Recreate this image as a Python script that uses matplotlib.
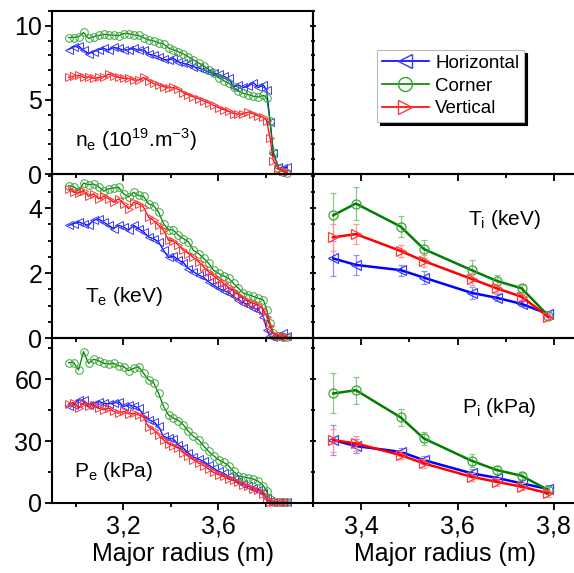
import matplotlib
matplotlib.use("Agg")
import matplotlib.pyplot as plt
from matplotlib.ticker import FixedLocator, MultipleLocator

plt.rcParams['font.family'] = ['Liberation Sans', 'DejaVu Sans']
plt.rcParams['mathtext.fontset'] = 'custom'
plt.rcParams['mathtext.rm'] = 'Liberation Sans'

# ---- electron profiles (left column), common radius grid ----
r_e = [2.970, 2.991, 3.012, 3.033, 3.054, 3.075, 3.096, 3.118, 3.139, 3.160,
       3.181, 3.202, 3.223, 3.244, 3.265, 3.286, 3.307, 3.328, 3.349, 3.370,
       3.391, 3.412, 3.433, 3.454, 3.475, 3.496, 3.518, 3.539, 3.560, 3.581,
       3.602, 3.623, 3.644, 3.665, 3.686, 3.707, 3.728, 3.749, 3.770, 3.791,
       3.805, 3.819, 3.833, 3.854, 3.875, 3.889]

ne_hor = [8.40, 8.58, 8.63, 8.36, 8.13, 8.25, 8.40, 8.47, 8.36, 8.54,
          8.47, 8.36, 8.40, 8.47, 8.36, 8.40, 8.09, 8.02, 7.91, 7.73,
          7.69, 7.80, 7.57, 7.46, 7.39, 7.24, 7.15, 7.04, 6.88, 6.83,
          6.72, 6.60, 6.45, 5.90, 6.00, 5.84, 5.93, 6.16, 5.84, 6.00,
          5.66, 3.50, 1.40, 0.45, 0.38, 0.45]
ne_cor = [9.21, 9.21, 9.26, 9.55, 9.15, 9.26, 9.35, 9.42, 9.39, 9.37,
          9.33, 9.48, 9.48, 9.39, 9.35, 9.20, 9.05, 8.99, 8.85, 8.78,
          8.50, 8.38, 8.25, 8.10, 7.90, 7.70, 7.50, 7.30, 7.05, 6.80,
          6.50, 6.30, 6.15, 5.85, 5.60, 5.45, 5.35, 5.25, 5.20, 5.30,
          5.15, 3.60, 1.50, 0.38, 0.16, 0.09]
ne_ver = [6.52, 6.61, 6.67, 6.52, 6.56, 6.45, 6.52, 6.56, 6.74, 6.61,
          6.52, 6.45, 6.45, 6.34, 6.34, 6.52, 6.29, 6.11, 6.00, 5.89,
          5.82, 5.84, 5.71, 5.48, 5.33, 5.21, 5.08, 4.92, 4.80, 4.63,
          4.48, 4.35, 4.23, 4.08, 4.04, 4.07, 4.18, 4.05, 3.92, 3.84,
          3.60, 2.40, 0.90, 0.35, 0.20, 0.16]

te_hor = [3.47, 3.52, 3.57, 3.52, 3.47, 3.62, 3.67, 3.57, 3.47, 3.37,
          3.47, 3.42, 3.32, 3.47, 3.37, 3.27, 3.11, 3.06, 2.96, 2.70,
          2.48, 2.52, 2.40, 2.32, 2.14, 2.04, 1.94, 1.87, 1.73, 1.63,
          1.53, 1.46, 1.40, 1.28, 1.17, 1.09, 1.02, 0.92, 0.87, 0.66,
          0.26, 0.05, 0.03, 0.05, 0.15, 0.05]
te_cor = [4.69, 4.66, 4.54, 4.77, 4.72, 4.74, 4.66, 4.52, 4.59, 4.62,
          4.64, 4.44, 4.34, 4.49, 4.39, 4.36, 4.13, 4.08, 3.88, 3.52,
          3.34, 3.32, 3.16, 3.06, 2.96, 2.70, 2.60, 2.45, 2.30, 2.09,
          1.99, 1.91, 1.84, 1.68, 1.53, 1.38, 1.33, 1.28, 1.22, 1.17,
          0.87, 0.46, 0.15, 0.05, 0.03, 0.02]
te_ver = [4.59, 4.49, 4.46, 4.54, 4.36, 4.44, 4.29, 4.36, 4.29, 4.18,
          4.29, 4.13, 3.98, 4.18, 4.13, 4.03, 3.72, 3.62, 3.47, 3.32,
          3.01, 2.99, 2.86, 2.70, 2.60, 2.48, 2.35, 2.19, 2.04, 1.91,
          1.79, 1.68, 1.56, 1.46, 1.33, 1.22, 1.12, 1.07, 1.02, 0.87,
          0.66, 0.36, 0.13, 0.07, 0.05, 0.03]

pe_hor = [46.8, 47.6, 50.0, 49.7, 47.6, 48.1, 49.2, 48.4, 48.1, 48.4,
          49.2, 46.8, 47.6, 47.1, 46.0, 42.7, 40.3, 39.5, 37.1, 32.3,
          31.5, 31.0, 28.2, 26.6, 24.2, 22.3, 21.3, 20.2, 18.5, 16.9,
          15.3, 14.5, 12.9, 11.6, 10.5, 9.4, 8.1, 7.3, 6.5, 4.8,
          2.4, 0.8, 0.3, 0.3, 0.5, 0.3]
pe_cor = [68.1, 68.1, 64.5, 73.4, 67.7, 69.7, 69.0, 67.7, 67.4, 67.7,
          66.5, 66.1, 64.2, 65.3, 66.1, 62.9, 59.7, 58.4, 53.2, 46.8,
          42.7, 41.1, 40.0, 37.9, 34.7, 32.3, 30.6, 27.7, 25.0, 22.9,
          21.0, 19.7, 18.1, 15.3, 13.2, 12.6, 12.1, 11.6, 10.5, 8.4,
          5.6, 1.9, 0.5, 0.3, 0.3, 0.3]
pe_ver = [48.1, 48.7, 46.0, 48.4, 46.8, 47.6, 46.0, 45.2, 46.0, 44.4,
          43.5, 44.4, 43.2, 43.5, 42.7, 41.6, 36.8, 35.5, 33.1, 30.6,
          28.7, 27.7, 26.6, 24.2, 22.6, 21.0, 19.4, 18.1, 16.5, 14.8,
          13.7, 12.9, 11.6, 11.0, 10.0, 8.9, 8.1, 6.8, 6.1, 4.5,
          1.9, 0.6, 0.3, 0.3, 0.3, 0.3]

# ---- ion profiles (right column) ----
r_i = [3.342, 3.389, 3.482, 3.530, 3.629, 3.681, 3.733, 3.788]

ti_hor = [2.45, 2.25, 2.09, 1.86, 1.39, 1.24, 1.05, 0.74]
ti_cor = [3.78, 4.14, 3.43, 2.74, 2.09, 1.76, 1.53, 0.69]
ti_ver = [3.10, 3.20, 2.68, 2.37, 1.82, 1.53, 1.27, 0.66]
ti_hor_err = [0.54, 0.31, 0.17, 0.20, 0.18, 0.10, 0.08, 0.10]
ti_cor_err = [0.68, 0.51, 0.32, 0.27, 0.32, 0.18, 0.10, 0.10]
ti_ver_err = [0.41, 0.32, 0.19, 0.18, 0.18, 0.14, 0.10, 0.08]

pi_hor = [30.5, 27.6, 24.8, 20.8, 14.4, 12.2, 9.5, 6.8]
pi_cor = [53.1, 54.7, 41.5, 31.3, 20.5, 16.0, 13.2, 6.3]
pi_ver = [30.5, 28.9, 23.2, 19.2, 12.7, 10.3, 7.9, 4.7]
pi_hor_err = [7.3, 3.5, 2.0, 2.0, 2.0, 2.0, 1.8, 1.8]
pi_cor_err = [9.7, 6.5, 4.0, 3.2, 3.2, 2.0, 1.5, 1.5]
pi_ver_err = [5.6, 3.5, 2.0, 2.0, 2.0, 2.0, 1.8, 1.8]

names = ['Horizontal', 'Corner', 'Vertical']
markers = ['<', 'o', '>']
lcol = ['#0000ff', '#008000', '#ff0000']
mcol = ['#3a3aff', '#3aa63a', '#ff3a3a']
ecol = ['#9090ff', '#8cc88c', '#ff9a9a']

left_xt = [3.2, 3.6]
left_xl = ['3,2', '3,6']
right_xt = [3.4, 3.6, 3.8]
right_xl = ['3,4', '3,6', '3,8']

fig = plt.figure(figsize=(5.74, 5.73), dpi=100)

x0, xm, x1 = 52/574, 313/574, 578/574
rows = [(1-174/573, 1-11/573), (1-338/573, 1-174/573), (1-503/573, 1-338/573)]
ylims = [(0, 11), (0, 5.05), (0, 80)]
ymaj = [5, 2, 30]
ymin = [1, 0.5, 15]


def style(ax, xlim, xmin_step, ylim, ym, yn):
    ax.set_facecolor('none')
    ax.set_xlim(*xlim)
    ax.set_ylim(*ylim)
    ax.xaxis.set_minor_locator(MultipleLocator(xmin_step))
    ax.yaxis.set_major_locator(MultipleLocator(ym))
    ax.yaxis.set_minor_locator(MultipleLocator(yn))
    for s in ax.spines.values():
        s.set_linewidth(1.5)
    ax.tick_params(which='both', width=1.3, labelsize=18)
    ax.tick_params(which='major', length=5)
    ax.tick_params(which='minor', length=3)


axes_l = []
axes_r = []
for i, (b, t) in enumerate(rows):
    axl = fig.add_axes([x0, b, xm - x0, t - b])
    style(axl, (2.9, 4.0), 0.2, ylims[i], ymaj[i], ymin[i])
    axl.xaxis.set_major_locator(FixedLocator(left_xt))
    axl.tick_params(which='both', direction='out', right=False, top=False)
    axl.tick_params(axis='y', pad=2)
    axes_l.append(axl)

    axr = fig.add_axes([xm, b, x1 - xm, t - b])
    style(axr, (3.3, 3.85), 0.1, ylims[i], ymaj[i], ymin[i])
    axr.xaxis.set_major_locator(FixedLocator(right_xt))
    axr.tick_params(axis='y', which='both', direction='inout', left=True,
                    right=True, labelleft=False)
    axr.tick_params(axis='x', which='both', direction='out')
    axes_r.append(axr)

for ax in axes_l[:2] + axes_r[:2]:
    ax.tick_params(axis='x', labelbottom=False)
axes_l[2].set_xticklabels(left_xl)
axes_r[2].set_xticklabels(right_xl)
axes_l[2].set_xlabel('Major radius (m)', fontsize=18, labelpad=2)
axes_r[2].set_xlabel('Major radius (m)', fontsize=18, labelpad=2)

# top-right panel holds only the legend
axes_r[0].spines['top'].set_visible(False)
axes_r[0].spines['right'].set_visible(False)
axes_r[0].tick_params(axis='y', right=False)

left_sets = [(ne_hor, ne_cor, ne_ver), (te_hor, te_cor, te_ver),
             (pe_hor, pe_cor, pe_ver)]
for ax, series in zip(axes_l, left_sets):
    for k in range(3):
        ax.plot(r_e, series[k], '-', color=lcol[k], lw=0.9, marker=markers[k],
                ms=5.5, mfc='none', mec=mcol[k], mew=0.7, clip_on=False)

right_sets = [((ti_hor, ti_cor, ti_ver), (ti_hor_err, ti_cor_err, ti_ver_err)),
              ((pi_hor, pi_cor, pi_ver), (pi_hor_err, pi_cor_err, pi_ver_err))]
for ax, (vals, errs) in zip(axes_r[1:], right_sets):
    for k in range(3):
        ax.errorbar(r_i, vals[k], yerr=errs[k], fmt='none', ecolor=ecol[k],
                    elinewidth=0.9, capsize=2, capthick=0.9)
        ax.plot(r_i, vals[k], '-', color=lcol[k], lw=1.8, marker=markers[k],
                ms=6.5, mfc='none', mec=mcol[k], mew=0.9, clip_on=False)

# legend
handles = [axes_r[0].plot([], [], '-', color=lcol[k], lw=1.2, marker=markers[k],
                          ms=10, mfc='none', mec=mcol[k], mew=1.0)[0]
           for k in range(3)]
leg = axes_r[0].legend(handles, names, loc='upper left',
                       bbox_to_anchor=(377/574, 1-50/573),
                       bbox_transform=fig.transFigure, borderaxespad=0,
                       fontsize=13.5, handlelength=2.5, labelspacing=0.3,
                       borderpad=0.25, handletextpad=0.35, fancybox=False,
                       framealpha=1, edgecolor='#bbbbbb',
                       shadow={'color': 'k', 'alpha': 1})
leg.get_frame().set_linewidth(0.8)

# panel labels
lab = dict(fontsize=15, va='baseline')
axes_l[0].text(0.088, 0.166, r'n$_\mathregular{e}$ (10$^\mathregular{19}$.m$^\mathregular{-3}$)',
               transform=axes_l[0].transAxes, **lab)
axes_l[1].text(0.126, 0.22, r'T$_\mathregular{e}$ (keV)',
               transform=axes_l[1].transAxes, **lab)
axes_l[2].text(0.084, 0.158, r'P$_\mathregular{e}$ (kPa)',
               transform=axes_l[2].transAxes, **lab)
axes_r[1].text(0.585, 0.69, r'T$_\mathregular{i}$ (keV)',
               transform=axes_r[1].transAxes, **lab)
axes_r[2].text(0.562, 0.545, r'P$_\mathregular{i}$ (kPa)',
               transform=axes_r[2].transAxes, **lab)

fig.savefig('out.png', dpi=100)
